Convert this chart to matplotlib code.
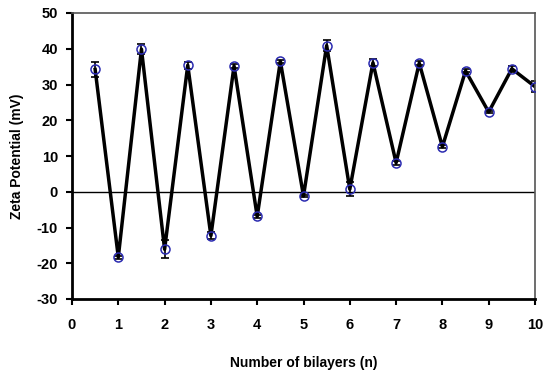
import numpy as np
import matplotlib
matplotlib.use('Agg')
import matplotlib.pyplot as plt

plt.rcParams['font.family'] = ['Liberation Sans', 'DejaVu Sans']
plt.rcParams['font.weight'] = 'bold'
plt.rcParams['axes.unicode_minus'] = False

# zeta potential after each half-layer
layers = [0.5, 1, 1.5, 2, 2.5, 3, 3.5, 4, 4.5, 5, 5.5, 6, 6.5, 7, 7.5, 8, 8.5, 9, 9.5, 10]
zeta = [34.2, -18.3, 39.9, -16.1, 35.4, -12.3, 35.2, -6.9, 36.5, -1.2,
        40.9, 0.7, 36.1, 8.1, 36.0, 12.6, 33.8, 22.3, 34.4, 29.4]
zeta_err = [2.0, 0.4, 1.3, 2.5, 1.0, 1.0, 0.5, 0.5, 0.4, 0.4,
            1.5, 2.0, 1.0, 0.5, 0.5, 0.5, 0.4, 0.4, 0.8, 1.5]

fig = plt.figure(figsize=(5.45, 3.71), dpi=100)
ax = fig.add_axes([72/545, 1-299/371, (535-72)/545, (299-13)/371])

ax.axhline(0, color='black', lw=1.0, zorder=1)
ax.errorbar(layers, zeta, yerr=zeta_err, color='black', lw=2.5,
            ecolor='black', elinewidth=1.2, capsize=3, capthick=1.2, zorder=2)
ax.plot(layers, zeta, 'o', mfc='none', mec='#2b2bb0', ms=6.5, mew=1.1, zorder=3)

ax.set_xlim(0, 10)
ax.set_ylim(-30, 50)
ax.set_xticks(range(0, 11))
ax.set_yticks(range(-30, 51, 10))

for s in ['left', 'bottom']:
    ax.spines[s].set_linewidth(2.0)
for s in ['top', 'right']:
    ax.spines[s].set_linewidth(1.2)
    ax.spines[s].set_color('#555555')

ax.tick_params(axis='both', direction='out', length=4, width=1.5, labelsize=10.5)
ax.tick_params(axis='x', pad=10)
ax.tick_params(axis='y', pad=6)
for lab in ax.get_xticklabels() + ax.get_yticklabels():
    lab.set_fontweight('bold')

ax.set_xlabel('Number of bilayers (n)', fontsize=10, fontweight='bold', labelpad=17)
ax.set_ylabel('Zeta Potential (mV)', fontsize=10, fontweight='bold', labelpad=9)

fig.savefig('out.png', dpi=100)
